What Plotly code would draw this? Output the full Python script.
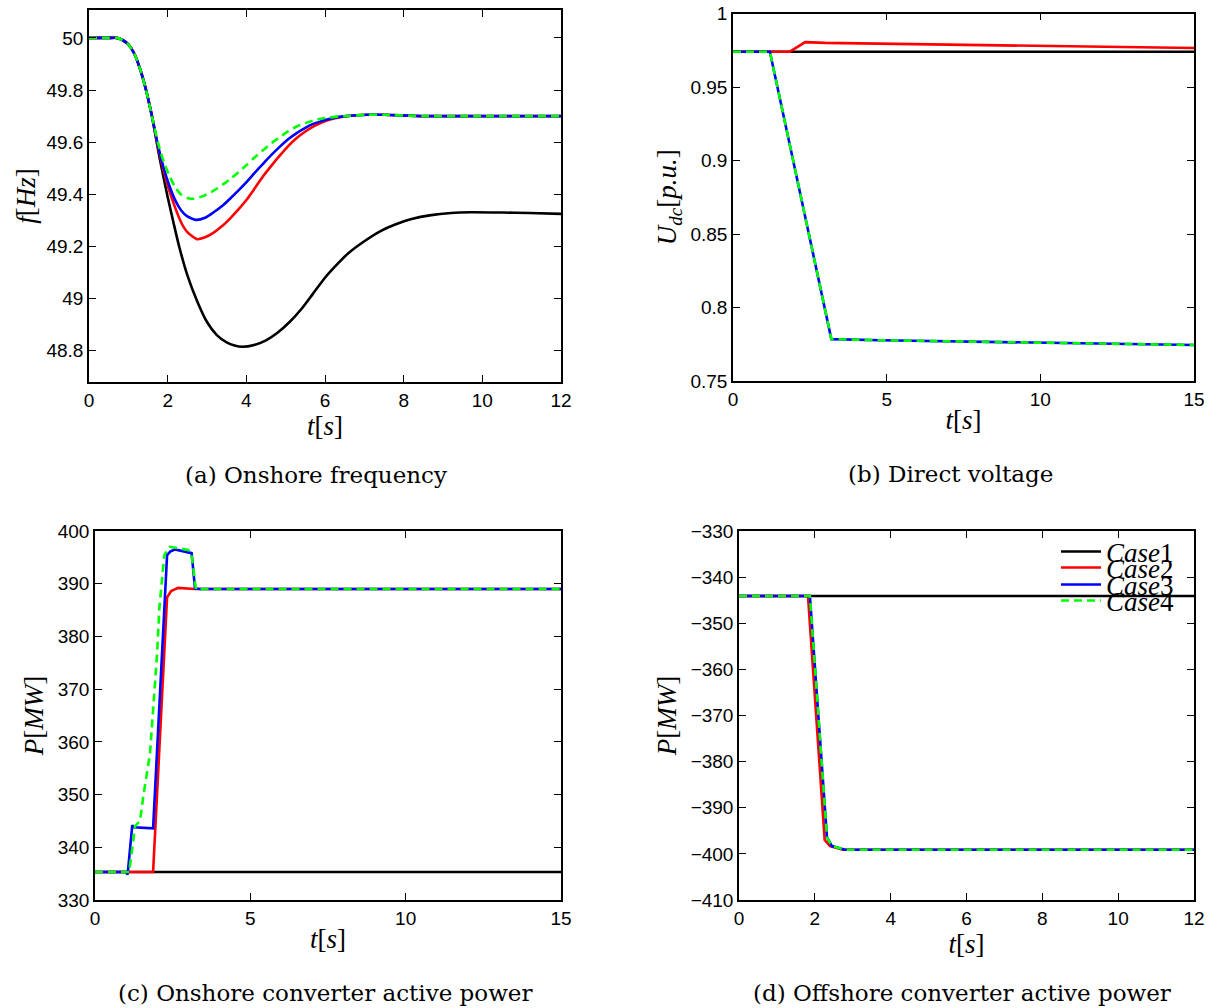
import plotly.graph_objects as go

# ---------------- (a) Onshore frequency ----------------
t_a_case1 = [0, 0.5, 0.7, 0.85, 1.0, 1.15, 1.3, 1.45, 1.6, 1.8, 2.0, 2.15, 2.3, 2.5, 2.75,
             3.0, 3.25, 3.5, 3.7, 3.9, 4.2, 4.5, 4.8, 5.1, 5.4, 5.7, 6.0, 6.3, 6.6, 7.0,
             7.4, 7.8, 8.2, 8.7, 9.2, 9.7, 10.5, 11.2, 12.0]
f_case1 = [50, 50, 50, 49.992, 49.975, 49.94, 49.88, 49.80, 49.70, 49.535, 49.39, 49.29,
           49.195, 49.09, 48.99, 48.91, 48.86, 48.832, 48.82, 48.815, 48.822, 48.84, 48.87,
           48.91, 48.96, 49.02, 49.08, 49.13, 49.175, 49.22, 49.258, 49.285, 49.305, 49.32,
           49.328, 49.331, 49.33, 49.328, 49.325]

t_a_case2 = [0, 0.5, 0.7, 0.85, 1.0, 1.15, 1.3, 1.45, 1.6, 1.75, 1.9, 2.05, 2.2, 2.35, 2.5,
             2.74, 2.95, 3.16, 3.4, 3.585, 3.8, 4.01, 4.2, 4.43, 4.65, 4.86, 5.07, 5.28,
             5.5, 5.7, 5.9, 6.13, 6.35, 6.55, 7.06, 7.5, 8.5, 10.0, 12.0]
f_case2 = [50, 50, 50, 49.992, 49.975, 49.94, 49.88, 49.80, 49.70, 49.585, 49.49, 49.41,
           49.345, 49.29, 49.255, 49.228, 49.235, 49.252, 49.28, 49.307, 49.342, 49.38,
           49.42, 49.47, 49.512, 49.55, 49.586, 49.616, 49.641, 49.66, 49.674, 49.687,
           49.695, 49.70, 49.705, 49.705, 49.70, 49.70, 49.70]

t_a_case3 = [0, 0.5, 0.7, 0.85, 1.0, 1.15, 1.3, 1.45, 1.6, 1.75, 1.9, 2.05, 2.2, 2.35, 2.5,
             2.72, 2.95, 3.16, 3.4, 3.585, 3.8, 4.01, 4.2, 4.43, 4.65, 4.86, 5.07, 5.28,
             5.5, 5.7, 5.9, 6.13, 6.35, 6.55, 7.06, 7.5, 8.5, 10.0, 12.0]
f_case3 = [50, 50, 50, 49.992, 49.975, 49.94, 49.88, 49.80, 49.70, 49.59, 49.50, 49.43,
           49.375, 49.337, 49.315, 49.302, 49.31, 49.33, 49.357, 49.383, 49.415, 49.448,
           49.48, 49.518, 49.553, 49.584, 49.612, 49.635, 49.655, 49.67, 49.68, 49.69,
           49.697, 49.70, 49.705, 49.705, 49.70, 49.70, 49.70]

t_a_case4 = [0, 0.5, 0.7, 0.85, 1.0, 1.15, 1.3, 1.45, 1.6, 1.75, 1.9, 2.05, 2.2, 2.35, 2.5,
             2.64, 2.9, 3.16, 3.4, 3.585, 3.8, 4.01, 4.2, 4.43, 4.65, 4.86, 5.07, 5.28,
             5.5, 5.7, 5.9, 6.13, 6.35, 6.55, 7.06, 7.5, 8.5, 10.0, 12.0]
f_case4 = [50, 50, 50, 49.992, 49.975, 49.94, 49.88, 49.80, 49.70, 49.60, 49.525, 49.468,
           49.425, 49.398, 49.386, 49.383, 49.393, 49.413, 49.437, 49.458, 49.485, 49.513,
           49.54, 49.57, 49.597, 49.62, 49.642, 49.66, 49.673, 49.683, 49.69, 49.695,
           49.699, 49.70, 49.705, 49.705, 49.70, 49.70, 49.70]

# ---------------- (b) Direct voltage ----------------
t_b_case1 = [0, 15]
u_case1 = [0.974, 0.974]
t_b_case2 = [0, 1.85, 2.35, 3.0, 15]
u_case2 = [0.974, 0.974, 0.9805, 0.980, 0.9765]
t_b_case3 = [0, 1.2, 3.2, 4.8, 15]
u_case3 = [0.974, 0.974, 0.7785, 0.7777, 0.7745]
t_b_case4 = [0, 1.2, 3.2, 4.8, 15]
u_case4 = [0.974, 0.974, 0.7785, 0.7777, 0.7745]

# ---------------- (c) Onshore converter active power ----------------
t_c_case1 = [0, 15]
p_on_case1 = [335.3, 335.3]
t_c_case2 = [0, 1.87, 2.32, 2.45, 2.68, 3.2, 15]
p_on_case2 = [335.3, 335.3, 387.4, 388.6, 389.2, 389.0, 389.0]
t_c_case3 = [0, 1.0, 1.05, 1.2, 1.25, 1.87, 2.32, 2.42, 2.57, 3.11, 3.22, 3.4, 15]
p_on_case3 = [335.3, 335.3, 334.8, 344.2, 343.8, 343.6, 395.4, 396.1, 396.5, 395.8,
              389.1, 389.0, 389.0]
t_c_case4 = [0, 1.1, 1.29, 1.45, 1.55, 1.77, 2.0, 2.07, 2.23, 2.41, 3.0, 3.1, 3.25, 3.5, 15]
p_on_case4 = [335.3, 335.3, 344.0, 345.0, 349.5, 357.8, 376.8, 385.3, 395.4, 397.0,
              396.4, 395.8, 388.9, 389.0, 389.0]

# ---------------- (d) Offshore converter active power ----------------
t_d_case1 = [0, 12]
p_off_case1 = [-344.1, -344.1]
t_d_case2 = [0, 1.82, 2.26, 2.4, 2.74, 12]
p_off_case2 = [-344.1, -344.1, -397.0, -398.3, -399.1, -399.1]
t_d_case3 = [0, 1.87, 2.32, 2.45, 2.8, 12]
p_off_case3 = [-344.1, -344.1, -396.4, -398.3, -399.1, -399.1]
t_d_case4 = [0, 1.87, 2.32, 2.45, 2.8, 12]
p_off_case4 = [-344.1, -344.1, -396.4, -398.3, -399.1, -399.1]

case_names = ["Case", "Case", "Case", "Case"]
case_ids = ["1", "2", "3", "4"]
case_colors = ["#000000", "#ff0000", "#0000ff", "#00ff00"]

captions = ["(a) Onshore frequency", "(b) Direct voltage",
            "(c) Onshore converter active power", "(d) Offshore converter active power"]

W, H = 1211, 1008


def px_x(v):
    return v / W


def px_y(v):
    return 1 - v / H


# plot-area boxes in pixels: left, right, top, bottom
boxes = {
    "a": (89, 561, 10, 382),
    "b": (733, 1194, 13.5, 381),
    "c": (95, 561, 531, 900),
    "d": (739, 1194, 531, 900),
}

fig = go.Figure()

panels = [
    ("a", "x", "y", [(t_a_case1, f_case1), (t_a_case2, f_case2), (t_a_case3, f_case3), (t_a_case4, f_case4)], "spline"),
    ("b", "x2", "y2", [(t_b_case1, u_case1), (t_b_case2, u_case2), (t_b_case3, u_case3), (t_b_case4, u_case4)], "linear"),
    ("c", "x3", "y3", [(t_c_case1, p_on_case1), (t_c_case2, p_on_case2), (t_c_case3, p_on_case3), (t_c_case4, p_on_case4)], "linear"),
    ("d", "x4", "y4", [(t_d_case1, p_off_case1), (t_d_case2, p_off_case2), (t_d_case3, p_off_case3), (t_d_case4, p_off_case4)], "linear"),
]

legend_keys = ["legend", "legend2", "legend3", "legend4"]

for key, xa, ya, series, shape in panels:
    for i, (tx, vy) in enumerate(series):
        dash = "8px,5px" if i == 3 else "solid"
        line = dict(color=case_colors[i], width=2.6, dash=dash, shape=shape)
        if shape == "spline":
            line["smoothing"] = 0.6
        fig.add_trace(go.Scatter(
            x=tx, y=vy, mode="lines", line=line, xaxis=xa, yaxis=ya,
            name="<i>" + case_names[i] + "</i>" + case_ids[i],
            showlegend=(key == "d"),
            legend=legend_keys[i],
        ))

tick_font = dict(family="Liberation Sans, Arial, sans-serif", size=19, color="black")
title_font = dict(family="Liberation Serif, Times New Roman, serif", size=27, color="black")


def axis_common():
    return dict(showline=True, linecolor="black", linewidth=1.5, mirror="ticks",
                ticks="inside", ticklen=7, tickwidth=1.2, tickcolor="black",
                showgrid=False, zeroline=False, tickfont=tick_font, automargin=False)


x_ranges = {"a": [0, 12], "b": [0, 15], "c": [0, 15], "d": [0, 12]}
x_ticks = {"a": [0, 2, 4, 6, 8, 10, 12], "b": [0, 5, 10, 15], "c": [0, 5, 10, 15],
           "d": [0, 2, 4, 6, 8, 10, 12]}
y_ranges = {"a": [48.68, 50.107], "b": [0.75, 1.0], "c": [330, 400], "d": [-410, -330]}
y_ticks = {
    "a": [48.8, 49, 49.2, 49.4, 49.6, 49.8, 50],
    "b": [0.75, 0.8, 0.85, 0.9, 0.95, 1],
    "c": [330, 340, 350, 360, 370, 380, 390, 400],
    "d": [-410, -400, -390, -380, -370, -360, -350, -340, -330],
}
y_titles = {
    "a": "<i>f</i>[<i>Hz</i>]",
    "b": "<i>U</i><sub><i>dc</i></sub>[<i>p.u.</i>]",
    "c": "<i>P</i>[<i>MW</i>]",
    "d": "<i>P</i>[<i>MW</i>]",
}
y_standoff = {"a": 3, "b": 6, "c": 6, "d": 6}

layout = dict(
    width=W, height=H, margin=dict(l=0, r=0, t=0, b=0, autoexpand=False),
    paper_bgcolor="white", plot_bgcolor="white",
)

for idx, key in enumerate(["a", "b", "c", "d"]):
    l, r, t, b = boxes[key]
    sfx = "" if idx == 0 else str(idx + 1)
    xax = axis_common()
    xax.update(domain=[px_x(l), px_x(r)], range=x_ranges[key], tickvals=x_ticks[key],
               anchor="y" + sfx,
               title=dict(text="<i>t</i>[<i>s</i>]", font=title_font, standoff=2))
    yax = axis_common()
    ytext = ["−" + f"{abs(v):g}" if v < 0 else f"{v:g}" for v in y_ticks[key]]
    yax.update(domain=[px_y(b), px_y(t)], range=y_ranges[key], tickvals=y_ticks[key],
               ticktext=ytext, anchor="x" + sfx,
               title=dict(text=y_titles[key], font=title_font, standoff=y_standoff[key]))
    layout["xaxis" + sfx] = xax
    layout["yaxis" + sfx] = yax

# one legend per case, stacked tightly inside panel (d)
legend_rows = [552, 568, 585, 601]
for key, row in zip(legend_keys, legend_rows):
    layout[key] = dict(
        x=px_x(1056), y=px_y(row), xanchor="left", yanchor="middle",
        bgcolor="rgba(0,0,0,0)", borderwidth=0,
        font=dict(family="Liberation Serif, Times New Roman, serif", size=27, color="black"),
        itemwidth=40,
    )

fig.update_layout(**layout)

caption_pos = [(316, 475), (950, 474), (325, 993), (962, 993)]
for text, (cx, cy) in zip(captions, caption_pos):
    fig.add_annotation(
        text=text, x=px_x(cx), y=px_y(cy), xref="paper", yref="paper",
        xanchor="center", yanchor="middle", showarrow=False,
        font=dict(family="DejaVu Serif, serif", size=23, color="black"),
    )

fig.write_html("out.html")
